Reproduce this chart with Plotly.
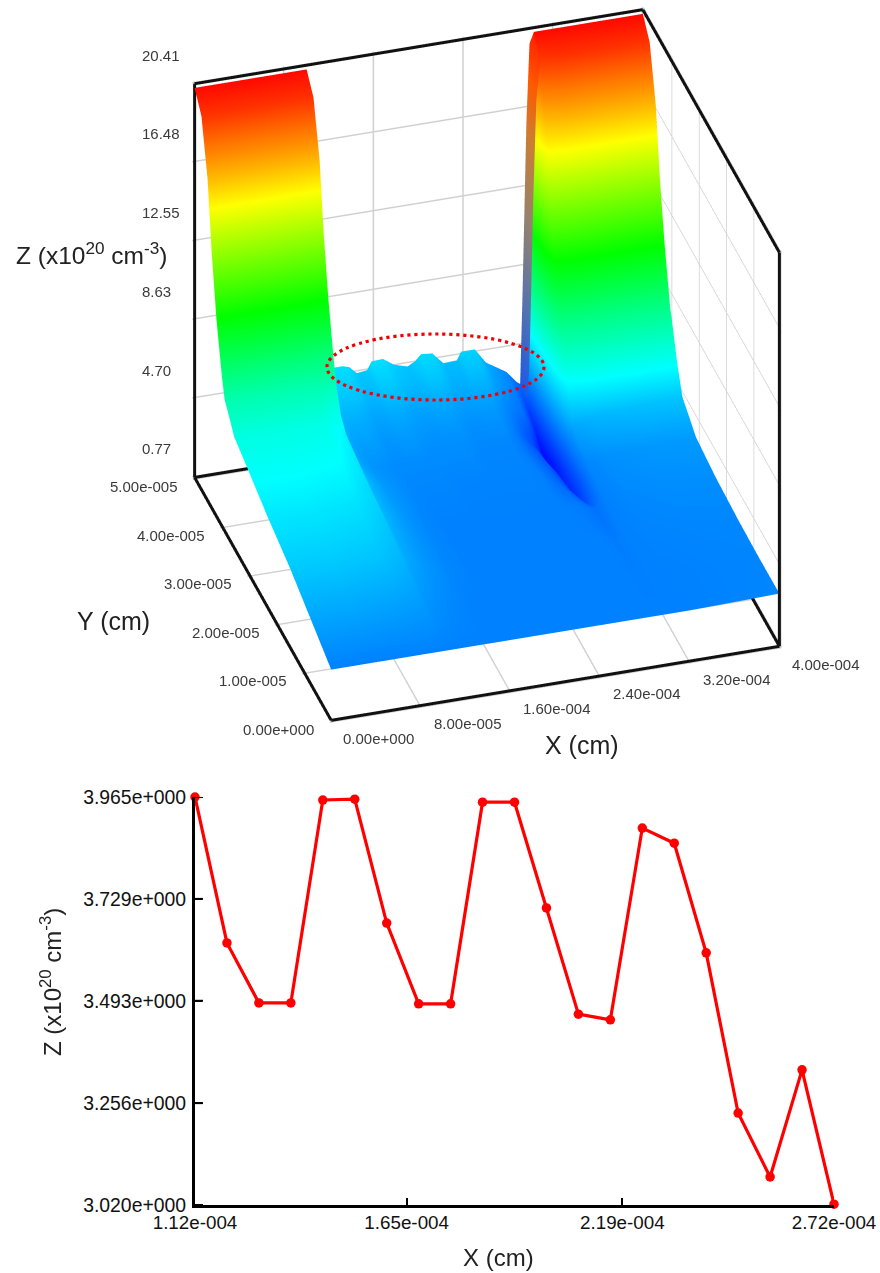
import plotly.graph_objects as go

W, H = 880, 1273

# ---------- 3D surface data (x in 1e-4 cm, y in 1e-5 cm, z in 1e20 cm-3) ----------
x_grid = [0, .4, .8, 1.0, 1.05, 1.224, 1.32, 1.38, 1.448, 1.54, 1.58, 1.68, 1.78, 1.9, 1.968, 2.02, 2.12,
          2.22, 2.34, 2.38, 2.50, 2.60, 2.784, 2.876, 2.908, 2.928, 2.946, 2.964, 2.992, 3.028, 3.2, 3.6, 4.0]
y_grid = [0, .75, 1.5, 2.35, 3.05, 3.55, 3.75, 3.9, 4.0, 4.2, 4.375, 4.525, 4.75, 5.0]

z_y000 = [3.3,3.3,3.3,3.3, 3.3, 3.3,3.3,3.3,3.3,3.3,3.3,3.3,3.3,3.3,3.3,3.3,3.3,3.3,3.3,3.3,3.3,3.3, 3.3,3.3,3.3,3.3,3.3,3.3,3.3,3.3,3.3,3.35,3.4]
z_y075 = [4.0,4.0,3.9,3.8, 3.65, 3.45,3.4,3.35,3.3,3.3,3.3,3.3,3.3,3.3,3.3,3.3,3.3,3.3,3.3,3.3,3.3,3.3, 3.3,3.28,3.25,3.25,3.25,3.25,3.25,3.28,3.3,3.35,3.38]
z_y150 = [4.7,4.7,4.6,4.3, 4.05, 3.7,3.55,3.45,3.4,3.35,3.3,3.3,3.3,3.3,3.3,3.3,3.3,3.3,3.3,3.3,3.3,3.3, 3.3,3.25,3.2,3.2,3.2,3.25,3.25,3.3,3.35,3.4,3.42]
z_y235 = [5.3,5.3,5.2,4.8, 4.3, 3.8,3.6,3.5,3.4,3.35,3.3,3.3,3.3,3.3,3.3,3.3,3.3,3.3,3.3,3.3,3.3,3.3, 3.2,3.05,3.0,3.0,3.05,3.1,3.2,3.3,3.45,3.55,3.55]
z_y305 = [5.9,5.9,5.8,5.2, 4.4, 3.8,3.65,3.55,3.45,3.4,3.4,3.4,3.4,3.35,3.35,3.35,3.35,3.35,3.35,3.35,3.35,3.3, 2.7,2.2,1.9,1.6,1.9,2.3,2.9,3.4,3.6,3.75,3.8]
z_y355 = [6.3,6.3,6.2,5.5, 4.2, 3.7,3.6,3.55,3.5,3.5,3.5,3.5,3.5,3.5,3.5,3.5,3.5,3.4,3.4,3.4,3.4,3.15, 2.5,1.9,1.6,1.4,1.7,2.3,3.3,4.0,4.3,4.5,4.6]
z_y375 = [6.9,6.9,6.8,6.0, 4.15, 3.75,3.75,3.7,3.6,3.6,3.65,3.65,3.55,3.55,3.55,3.55,3.55,3.45,3.45,3.45,3.45,3.15, 2.4,1.6,1.2,1.1,1.5,2.6,4.3,5.5,5.9,5.9,5.9]
z_y390 = [7.3,7.3,7.3,7.0, 4.2, 3.85,3.85,3.8,3.65,3.7,3.75,3.75,3.65,3.6,3.65,3.65,3.65,3.5,3.5,3.55,3.55,3.2, 2.3,1.4,1.05,1.0,1.6,3.2,5.3,6.9,7.2,7.2,7.2]
z_y400 = [8.2,8.2,8.2,8.0, 4.2, 3.95,3.95,3.85,3.7,3.75,3.8,3.8,3.7,3.65,3.7,3.7,3.7,3.55,3.55,3.6,3.6,3.25, 2.2,1.3,1.0,.9,1.8,4.0,6.2,7.7,8.0,8.0,8.0]
z_y420 = [10.6,10.6,10.6,10.6, 4.3, 4.1,4.1,4.0,3.85,3.9,4.0,4.0,3.85,3.8,3.85,3.9,3.85,3.7,3.7,3.75,3.75,3.4, 2.5,1.6,1.15,1.0,2.6,5.0,8.0,10.2,10.6,10.6,10.6]
z_y437 = [13.5,13.5,13.5,13.5, 4.4, 4.3,4.3,4.2,4.0,4.05,4.2,4.2,4.0,3.95,4.0,4.1,4.05,3.85,3.85,3.95,3.95,3.55, 2.95,2.0,1.4,1.2,3.2,6.5,10.5,13.0,13.5,13.5,13.5]
z_y452 = [16.8,16.8,16.8,16.8, 4.5, 4.55,4.55,4.45,4.2,4.25,4.45,4.5,4.25,4.15,4.25,4.4,4.35,4.05,4.05,4.2,4.2,3.75, 3.1,2.2,1.7,1.5,4.0,8.0,13.0,16.0,16.8,16.8,16.8]
z_y475 = [19.4,19.4,19.4,19.4, 4.7, 4.85,4.85,4.75,4.45,4.5,4.8,4.85,4.55,4.4,4.55,4.75,4.7,4.3,4.3,4.55,4.55,3.95, 3.3,2.5,2.1,2.0,5.0,10.0,16.0,19.0,19.4,19.4,19.4]
z_y500 = [20.2,20.2,20.2,20.2, 4.9, 5.09,5.1,5.0,4.63,4.7,5.1,5.13,4.75,4.55,4.75,5.05,5.0,4.42,4.45,4.85,4.85,4.1, 3.46,2.87,2.74,6.9,11.3,15.8,19.7,20.2,20.2,20.2,20.2]
z_rows = [z_y000, z_y075, z_y150, z_y235, z_y305, z_y355, z_y375, z_y390, z_y400, z_y420, z_y437, z_y452, z_y475, z_y500]
assert all(len(r) == len(x_grid) for r in z_rows)

# shaded inner face of the right wall (drawn just in front of the main sheet)
side_x = [2.90, 2.92, 2.938, 2.956, 2.984, 3.02]
side_y = [4.73, 4.98]
side_z_front = [2.74, 4.0, 8.0, 12.5, 17.5, 19.4]
side_z_back = [2.74, 6.9, 11.3, 15.8, 19.7, 20.2]
side_scale = [[0, "rgb(30,90,235)"], [.1, "rgb(30,90,230)"], [.31, "rgb(85,115,175)"], [.53, "rgb(150,130,110)"],
              [.74, "rgb(205,125,50)"], [.88, "rgb(255,90,0)"], [1, "rgb(255,30,0)"]]

z_min, z_max = 0.77, 20.41
x_max, y_max = 4.0, 5.0
x_ticks = [0, .8, 1.6, 2.4, 3.2, 4.0]
x_tick_text = ["0.00e+000", "8.00e-005", "1.60e-004", "2.40e-004", "3.20e-004", "4.00e-004"]
y_ticks = [0, 1, 2, 3, 4, 5]
y_tick_text = ["0.00e+000", "1.00e-005", "2.00e-005", "3.00e-005", "4.00e-005", "5.00e-005"]
z_ticks = [0.77, 4.70, 8.63, 12.55, 16.48, 20.41]
z_tick_text = ["0.77", "4.70", "8.63", "12.55", "16.48", "20.41"]

# ---------- line chart data ----------
line_x = [1.12e-4, 1.20e-4, 1.28e-4, 1.36e-4, 1.44e-4, 1.52e-4, 1.60e-4, 1.68e-4, 1.76e-4, 1.84e-4, 1.92e-4,
          2.00e-4, 2.08e-4, 2.16e-4, 2.24e-4, 2.32e-4, 2.40e-4, 2.48e-4, 2.56e-4, 2.64e-4, 2.72e-4]
line_z = [3.965, 3.627, 3.488, 3.488, 3.958, 3.960, 3.673, 3.486, 3.486, 3.953, 3.953,
          3.708, 3.462, 3.449, 3.893, 3.858, 3.604, 3.233, 3.085, 3.333, 3.022]
line_x_ticks = [1.12e-4, 1.65e-4, 2.19e-4, 2.72e-4]
line_x_text = ["1.12e-004", "1.65e-004", "2.19e-004", "2.72e-004"]
line_y_ticks = [3.020, 3.256, 3.493, 3.729, 3.965]
line_y_text = ["3.020e+000", "3.256e+000", "3.493e+000", "3.729e+000", "3.965e+000"]

FONT = "Liberation Sans"
rainbow = [[0, "rgb(0,0,255)"], [.25, "rgb(0,255,255)"], [.5, "rgb(0,255,0)"], [.75, "rgb(255,255,0)"], [1, "rgb(255,0,0)"]]
flat = dict(ambient=1, diffuse=0, specular=0, roughness=1, fresnel=0)

fig = go.Figure()
fig.add_trace(go.Surface(x=x_grid, y=y_grid, z=z_rows, colorscale=rainbow, cmin=z_min, cmax=z_max, showscale=False,
                         lighting=flat, hoverinfo="skip"))
fig.add_trace(go.Surface(x=side_x, y=side_y, z=[side_z_front, side_z_back], colorscale=side_scale, cmin=z_min, cmax=z_max,
                         showscale=False, lighting=flat, hoverinfo="skip"))

# box frame edges
edges = [
    ([0, 0], [y_max, y_max], [z_min, z_max]),
    ([0, x_max], [y_max, y_max], [z_max, z_max]),
    ([x_max, x_max], [y_max, 0], [z_max, z_max]),
    ([x_max, x_max], [0, 0], [z_max, z_min]),
    ([0, 0], [y_max, 0], [z_min, z_min]),
    ([0, x_max], [0, 0], [z_min, z_min]),
    ([x_max, x_max], [y_max, 0], [z_min, z_min]),
    ([0, x_max], [y_max, y_max], [z_min, z_min]),
]
for ex, ey, ez in edges:
    fig.add_trace(go.Scatter3d(x=ex, y=ey, z=ez, mode="lines", line=dict(color="#111111", width=6),
                               hoverinfo="skip", showlegend=False))

# line chart
fig.add_trace(go.Scatter(x=line_x, y=line_z, mode="lines+markers", cliponaxis=False,
                         line=dict(color="rgb(255,0,0)", width=3.2), marker=dict(color="rgb(255,0,0)", size=9.5),
                         xaxis="x", yaxis="y", showlegend=False, hoverinfo="skip"))

tick_font = dict(family=FONT, size=15, color="#3a3a3a")
ann3d = []
for v, t in zip(z_ticks, z_tick_text):
    ann3d.append(dict(x=0, y=y_max, z=v, text=t, showarrow=False, xanchor="left", yanchor="middle",
                      xshift=-55, yshift=28.5, font=tick_font))
for v, t in zip(y_ticks, y_tick_text):
    ann3d.append(dict(x=0, y=v, z=z_min, text=t, showarrow=False, xanchor="right", yanchor="middle",
                      xshift=-15, yshift=-9, font=tick_font))
for v, t in zip(x_ticks, x_tick_text):
    ann3d.append(dict(x=v, y=0, z=z_min, text=t, showarrow=False, xanchor="center", yanchor="middle",
                      xshift=47, yshift=-18, font=tick_font))

def axis3d(rng, pad, ticks):
    return dict(range=[rng[0] - pad, rng[1] + pad], tickmode="array", tickvals=ticks, showticklabels=False,
                title=dict(text=""), showgrid=True, gridcolor="rgb(208,208,208)", gridwidth=3, showline=False,
                zeroline=False, showbackground=False, showspikes=False, ticks="")

# inner tick marks of the line chart's y axis
y_tick_shapes = [dict(type="line", xref="x domain", yref="y", x0=0, x1=8 / 639, y0=v, y1=v,
                      line=dict(color="black", width=2), layer="above") for v in line_y_ticks]

cx, cy = 487, 365
half_w, half_h = 393, 365
box_scale = 1.294
fig.update_layout(
    width=W, height=H, margin=dict(l=0, r=0, t=0, b=0, autoexpand=False), paper_bgcolor="white", plot_bgcolor="white",
    showlegend=False,
    scene=dict(
        domain=dict(x=[(cx - half_w) / W, (cx + half_w) / W], y=[1 - (cy + half_h) / H, 1 - (cy - half_h) / H]),
        aspectmode="manual", aspectratio=dict(x=box_scale, y=box_scale, z=box_scale),
        xaxis=axis3d([0, x_max], .016, x_ticks), yaxis=axis3d([0, y_max], .02, y_ticks),
        zaxis=axis3d([z_min, z_max], .08, z_ticks),
        camera=dict(projection=dict(type="orthographic"), center=dict(x=0, y=0, z=0), up=dict(x=0, y=0, z=1),
                    eye=dict(x=-0.245 * 2, y=-0.804 * 2, z=0.542 * 2)),
        annotations=ann3d,
    ),
    xaxis=dict(domain=[195 / W, 834 / W], range=[1.12e-4, 2.72e-4], tickmode="array", tickvals=line_x_ticks,
               ticktext=line_x_text, ticks="inside", ticklen=7, tickwidth=2, tickcolor="black", showline=True,
               linecolor="black", linewidth=3, showgrid=False, zeroline=False, ticklabelstandoff=-2,
               tickfont=dict(family=FONT, size=18.8, color="#111111"), anchor="y"),
    yaxis=dict(domain=[1 - 1205 / H, 1 - 797 / H], range=[3.02, 3.965], tickmode="array", tickvals=line_y_ticks,
               ticktext=line_y_text, ticks="inside", ticklen=7, tickwidth=2, tickcolor="black", showline=True,
               linecolor="black", linewidth=3, showgrid=False, zeroline=False, ticklabelstandoff=2,
               tickfont=dict(family=FONT, size=19.4, color="#111111"), anchor="x"),
    shapes=[dict(type="circle", xref="paper", yref="paper", x0=327 / W, x1=544 / W, y0=1 - 400 / H, y1=1 - 334 / H,
                 line=dict(color="rgb(240,0,0)", width=3.2, dash="3.2px,3.8px"), layer="above")] + y_tick_shapes,
)

def title(px, py, text, size=24, angle=0, xanchor="left"):
    fig.add_annotation(x=px / W, y=1 - py / H, xref="paper", yref="paper", text=text, showarrow=False,
                       xanchor=xanchor, yanchor="middle", textangle=angle,
                       font=dict(family=FONT, size=size, color="#222222"))

z_title = "Z (x10<sup>20</sup> cm<sup>-3</sup>)"
title(14, 253, z_title, 24.5)
title(75, 621, "Y (cm)", 25)
title(543, 745, "X (cm)", 25)
title(498, 1257, "X (cm)", 24, xanchor="center")
title(51, 982, z_title, 24, angle=-90, xanchor="center")

fig.write_html("out.html", config={"displayModeBar": False},
               post_script="document.body.style.margin='0';document.body.style.overflow='hidden';")
